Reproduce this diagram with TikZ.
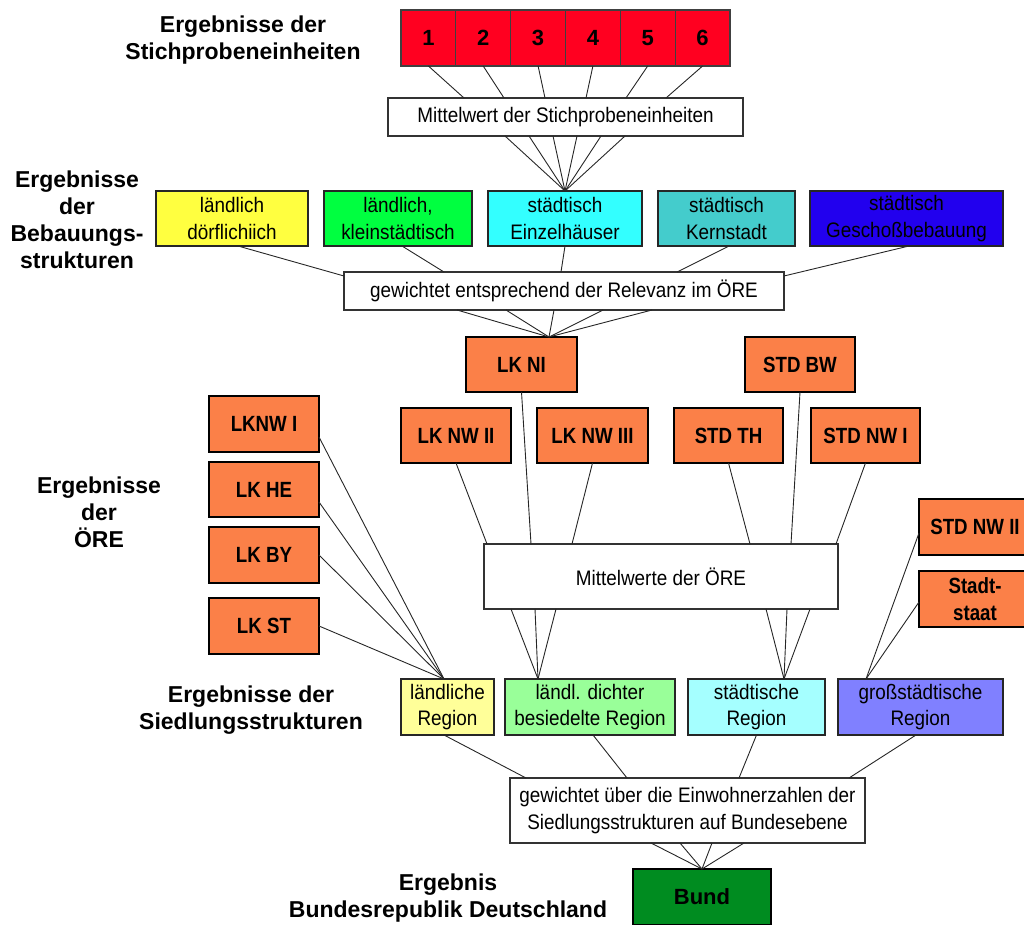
\documentclass[tikz,border=0pt]{standalone}
\usepackage{fontspec}
\setmainfont{Liberation Sans}
\newfontfamily\regf[FakeStretch=0.9]{Liberation Sans}
\newfontfamily\boxbf[FakeStretch=0.85]{Liberation Sans Bold}
\newfontfamily\labf{Liberation Sans Bold}
\usetikzlibrary{calc}
\definecolor{redc}{RGB}{255,0,32}
\definecolor{orangec}{RGB}{251,128,72}
\definecolor{yelc}{RGB}{255,255,64}
\definecolor{grnc}{RGB}{0,255,64}
\definecolor{cync}{RGB}{51,255,255}
\definecolor{tealc}{RGB}{68,204,204}
\definecolor{bluc}{RGB}{34,0,238}
\definecolor{lyelc}{RGB}{255,255,153}
\definecolor{lgrnc}{RGB}{153,255,153}
\definecolor{lcync}{RGB}{165,255,255}
\definecolor{lbluc}{RGB}{128,128,255}
\definecolor{bundc}{RGB}{0,140,32}
\begin{document}
\begin{tikzpicture}[x=1pt,y=-1pt,
  every node/.style={inner sep=0pt, outer sep=0pt},
  lbl/.style={font=\labf\fontsize{23}{27}\selectfont, align=center},
  wbox/.style={draw=black!80, line width=1.2pt, fill=white, font=\regf\fontsize{21}{26.5}\selectfont, align=center},
  cbox/.style={draw=black!85, line width=1.3pt, font=\regf\fontsize{21}{26.5}\selectfont, align=center},
  obox/.style={draw=black, line width=2pt, fill=orangec, font=\boxbf\fontsize{22}{27}\selectfont, align=center},
  rbox/.style={fill=redc, font=\labf\fontsize{22}{26}\selectfont},
  bbox/.style={draw=black, line width=2pt, fill=bundc, font=\labf\fontsize{22}{26}\selectfont},
  conn/.style={draw=black!85, line width=0.9pt},
  sz/.style 2 args={minimum width=#1pt, minimum height=#2pt},
]
\useasboundingbox (0,0) rectangle (1024,925);
\clip (0,0) rectangle (1024,925);

% titles
\node[lbl] (t1) at (243,39.6) {Ergebnisse der\\Stichprobeneinheiten};
\node[lbl] (t2) at (77,220) {Ergebnisse\\der\\Bebauungs-\\strukturen};
\node[lbl] (t3) at (99,512) {Ergebnisse\\der\\ÖRE};
\node[lbl] (t4) at (251,710) {Ergebnisse der\\Siedlungsstrukturen};
\node[lbl] (t5) at (448,898) {Ergebnis\\Bundesrepublik Deutschland};

% sample units
\node[rbox, sz={54.83}{56}] (r1) at (428.4,38) {1};
\node[rbox, sz={54.83}{56}] (r2) at (483.2,38) {2};
\node[rbox, sz={54.83}{56}] (r3) at (538.1,38) {3};
\node[rbox, sz={54.83}{56}] (r4) at (592.9,38) {4};
\node[rbox, sz={54.83}{56}] (r5) at (647.7,38) {5};
\node[rbox, sz={54.83}{56}] (r6) at (702.6,38) {6};
\foreach \i in {1,...,6}
  \draw[black!75, line width=1.2pt] (r\i.south west) rectangle (r\i.north east);

\node[wbox, sz={355}{38}] (mw) at (565.5,117) {Mittelwert der Stichprobeneinheiten};

% building structures
\node[cbox, fill=yelc, sz={152}{55}] (b1) at (232,218.5) {ländlich\\dörflichiich};
\node[cbox, fill=grnc, sz={148}{55}] (b2) at (398,218.5) {ländlich,\\kleinstädtisch};
\node[cbox, fill=cync, sz={154}{55}] (b3) at (565,218.5) {städtisch\\Einzelhäuser};
\node[cbox, fill=tealc, sz={137}{55}] (b4) at (726.5,218.5) {städtisch\\Kernstadt};
\node[cbox, fill=bluc, sz={193}{55}] (b5) at (906.5,218.5) {städtisch\\Geschoßbebauung};

\node[wbox, sz={440}{38}] (gw) at (564,291) {gewichtet entsprechend der Relevanz im ÖRE};

% OERE
\node[obox, sz={111}{55}] (lkni) at (521.5,364.5) {LK NI};
\node[obox, sz={110}{55}] (stdbw) at (800,364.5) {STD BW};
\node[obox, sz={110}{55}] (lknw2) at (456,435.5) {LK NW II};
\node[obox, sz={111}{55}] (lknw3) at (592.5,435.5) {LK NW III};
\node[obox, sz={109}{55}] (stdth) at (728.5,435.5) {STD TH};
\node[obox, sz={109}{55}] (stdnw1) at (865.5,435.5) {STD NW I};
\node[obox, sz={110}{56}] (lknw1) at (264,424) {LKNW I};
\node[obox, sz={110}{55}] (lkhe) at (264,489.5) {LK HE};
\node[obox, sz={110}{56}] (lkby) at (264,555) {LK BY};
\node[obox, sz={110}{56}] (lkst) at (264,626) {LK ST};
\node[obox, sz={112}{56}] (stdnw2) at (975,527) {STD NW II};
\node[obox, sz={112}{56}] (stadt) at (975,599) {Stadt-\\staat};

\node[wbox, sz={354}{65}] (mwo) at (661,576.5) {Mittelwerte der ÖRE};

% settlement structures
\node[cbox, fill=lyelc, sz={93}{56}] (s1) at (447.5,707) {ländliche\\Region};
\node[cbox, fill=lgrnc, sz={170}{56}] (s2) at (590,707) {ländl. dichter\\besiedelte Region};
\node[cbox, fill=lcync, sz={137}{56}] (s3) at (756.5,707) {städtische\\Region};
\node[cbox, fill=lbluc, sz={165}{56}] (s4) at (920.5,707) {großstädtische\\Region};

\node[wbox, sz={355}{65}] (gw2) at (687.5,810.5) {gewichtet über die Einwohnerzahlen der\\Siedlungsstrukturen auf Bundesebene};

\node[bbox, sz={138}{56}] (bund) at (702,897) {Bund};

% connectors
\foreach \i/\dx in {1/76,2/116,3/157,4/198,5/238,6/278}
  \draw[conn] (r\i.south) -- ($(mw.north west)+(\dx,0)$);
\foreach \dx in {117,141,165,189,213,237}
  \draw[conn] ($(mw.south west)+(\dx,0)$) -- (b3.north);

\draw[conn] ($(b1.south)+(6,0)$) -- ($(gw.north west)+(0,4)$);
\draw[conn] ($(b2.south)+(4,0)$) -- ($(gw.north west)+(100,0)$);
\draw[conn] (b3.south) -- ($(gw.north west)+(217,0)$);
\draw[conn] ($(b4.south)+(2.5,0)$) -- ($(gw.north west)+(333,0)$);
\draw[conn] ($(b5.south)+(2.5,0)$) -- ($(gw.north east)+(0,4)$);

\foreach \dx in {113,162,210,259,308}
  \draw[conn] ($(gw.south west)+(\dx,0)$) -- ($(lkni.north west)+(83,0)$);

\draw[conn] (lknw2.south) -- ($(mwo.north west)+(3,0)$);
\draw[conn] (lkni.south) -- ($(mwo.north west)+(47,0)$);
\draw[conn] (lknw3.south) -- ($(mwo.north west)+(88,0)$);
\draw[conn] (stdth.south) -- ($(mwo.north west)+(266,0)$);
\draw[conn] (stdbw.south) -- ($(mwo.north west)+(307,0)$);
\draw[conn] (stdnw1.south) -- ($(mwo.north west)+(352,0)$);

\foreach \dx in {27,51,72}
  \draw[conn] ($(mwo.south west)+(\dx,0)$) -- ($(s2.north west)+(33,0)$);
\foreach \dx in {282,303,326}
  \draw[conn] ($(mwo.south west)+(\dx,0)$) -- ($(s3.north west)+(96,0)$);

\draw[conn] ($(lknw1.east)+(0,13)$) -- ($(s1.north)+(-3.5,0)$);
\draw[conn] ($(lkhe.east)+(0,12.5)$) -- ($(s1.north)+(-3.5,0)$);
\draw[conn] (lkby.east) -- ($(s1.north)+(-3.5,0)$);
\draw[conn] (lkst.east) -- ($(s1.north)+(-3.5,0)$);

\draw[conn] ($(stdnw2.west)+(0,6)$) -- ($(s4.north west)+(28,0)$);
\draw[conn] ($(stadt.west)+(0,3)$) -- ($(s4.north west)+(28,0)$);

\draw[conn] ($(s1.south)+(-3.5,0)$) -- ($(gw2.north west)+(16,0)$);
\draw[conn] ($(s2.south)+(3,0)$) -- ($(gw2.north west)+(117,0)$);
\draw[conn] (s3.south) -- ($(gw2.north west)+(229,0)$);
\draw[conn] ($(s4.south)+(-4.5,0)$) -- ($(gw2.north west)+(339,0)$);

\foreach \dx in {141,170,202,234}
  \draw[conn] ($(gw2.south west)+(\dx,0)$) -- (bund.north);
\end{tikzpicture}
\end{document}
